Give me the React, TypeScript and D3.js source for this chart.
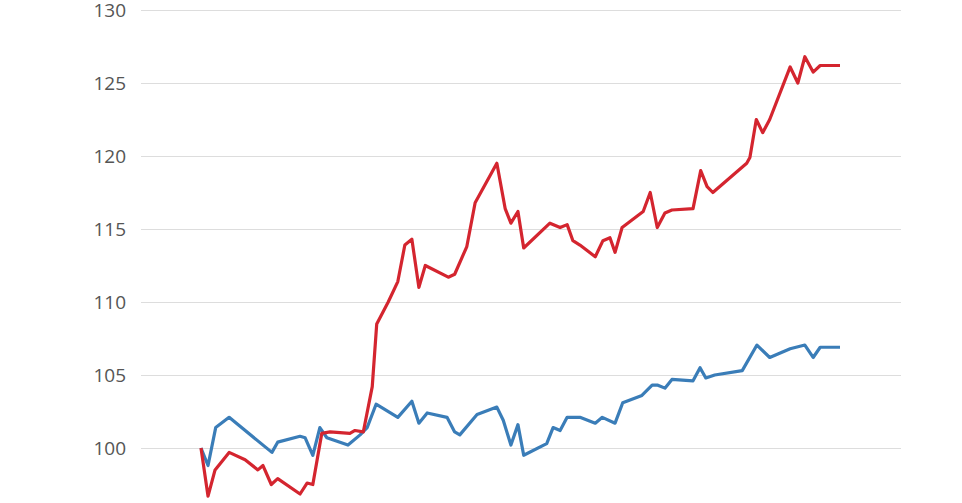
import * as d3 from "d3";
import { useEffect, useRef } from "react";

// trading-day offsets (0..100) and index values
const redDays = [0, 1.1, 2.2, 4.4, 6.9, 8.9, 9.7, 11.0, 12.0, 15.5, 16.6, 17.5, 18.9, 20.2, 23.3, 24.1, 25.4, 26.8, 27.5, 29.3, 30.8, 31.9, 33.0, 34.1, 35.1, 38.7, 39.7, 41.6, 42.9, 46.3, 47.6, 48.5, 49.6, 50.5, 54.6, 56.2, 57.3, 58.2, 59.3, 61.7, 62.9, 64.0, 64.8, 65.9, 69.2, 70.3, 71.4, 72.6, 73.7, 77.0, 78.2, 79.2, 80.1, 85.4, 85.9, 86.9, 87.9, 89.0, 92.2, 93.4, 94.5, 95.8, 96.9, 100];
const redValues = [100.0, 96.7, 98.5, 99.7, 99.2, 98.5, 98.8, 97.5, 97.9, 96.85, 97.6, 97.5, 101.0, 101.1, 101.0, 101.2, 101.1, 104.2, 108.5, 110.0, 111.4, 113.9, 114.3, 111.0, 112.5, 111.7, 111.9, 113.8, 116.8, 119.5, 116.4, 115.4, 116.2, 113.7, 115.4, 115.1, 115.3, 114.2, 113.9, 113.1, 114.2, 114.4, 113.4, 115.1, 116.2, 117.5, 115.1, 116.1, 116.3, 116.4, 119.0, 117.9, 117.5, 119.5, 119.9, 122.5, 121.6, 122.5, 126.1, 125.0, 126.8, 125.75, 126.2, 126.2];

const blueDays = [0, 1.1, 2.3, 4.4, 11.1, 12.0, 15.5, 16.3, 17.5, 18.6, 19.7, 23.0, 24.9, 26.0, 27.4, 30.8, 33.0, 34.1, 35.4, 38.5, 39.7, 40.5, 43.2, 46.3, 47.3, 48.5, 49.6, 50.5, 54.1, 55.1, 56.2, 57.3, 59.3, 61.7, 62.8, 64.8, 66.0, 69.0, 70.6, 71.5, 72.6, 73.7, 77.0, 78.1, 79.0, 80.4, 84.7, 87.0, 89.0, 92.2, 94.5, 95.8, 96.9, 100];
const blueValues = [100.0, 98.8, 101.4, 102.1, 99.7, 100.4, 100.8, 100.7, 99.5, 101.4, 100.7, 100.2, 100.9, 101.4, 103.0, 102.1, 103.2, 101.7, 102.4, 102.1, 101.1, 100.9, 102.3, 102.8, 101.9, 100.2, 101.6, 99.5, 100.3, 101.4, 101.2, 102.1, 102.1, 101.7, 102.1, 101.7, 103.1, 103.6, 104.3, 104.3, 104.1, 104.7, 104.6, 105.5, 104.8, 105.0, 105.3, 107.05, 106.2, 106.8, 107.05, 106.2, 106.9, 106.9];

const yTicks = [100, 105, 110, 115, 120, 125, 130];

const width = 962;
const height = 503;

const App = () => {
  const svgRef = useRef<SVGSVGElement | null>(null);

  useEffect(() => {
    const svg = d3.select(svgRef.current);
    svg.selectAll("*").remove();

    const gridLeft = 141;
    const gridRight = 901;

    const x = d3.scaleLinear().domain([0, 100]).range([201, 840]);
    const y = d3.scaleLinear().domain([100, 130]).range([448, 10]);

    // y axis with grid lines
    const axis = svg
      .append("g")
      .attr("transform", `translate(${gridLeft},0)`)
      .call(
        d3
          .axisLeft(y)
          .tickValues(yTicks)
          .tickSize(-(gridRight - gridLeft))
          .tickPadding(15)
          .tickFormat(d3.format("d"))
      );
    axis.select(".domain").remove();
    axis.selectAll(".tick line").attr("stroke", "#dddddd").attr("stroke-width", 1);
    axis
      .selectAll(".tick text")
      .attr("fill", "#555")
      .style("font-family", "'Open Sans', sans-serif")
      .style("font-size", "19px");

    const line = d3
      .line<[number, number]>()
      .x((d) => x(d[0]))
      .y((d) => y(d[1]));

    const series = [
      { days: blueDays, values: blueValues, color: "#3a7db8" },
      { days: redDays, values: redValues, color: "#d4252f" },
    ];

    series.forEach((s) => {
      const pts = s.days.map((d, i) => [d, s.values[i]] as [number, number]);
      svg
        .append("path")
        .datum(pts)
        .attr("fill", "none")
        .attr("stroke", s.color)
        .attr("stroke-width", 3.2)
        .attr("stroke-linejoin", "round")
        .attr("d", line);
    });
  }, []);

  return (
    <svg
      ref={svgRef}
      width={width}
      height={height}
      style={{ position: "absolute", left: 0, top: 0, background: "#fff" }}
    ></svg>
  );
};

export default App;
